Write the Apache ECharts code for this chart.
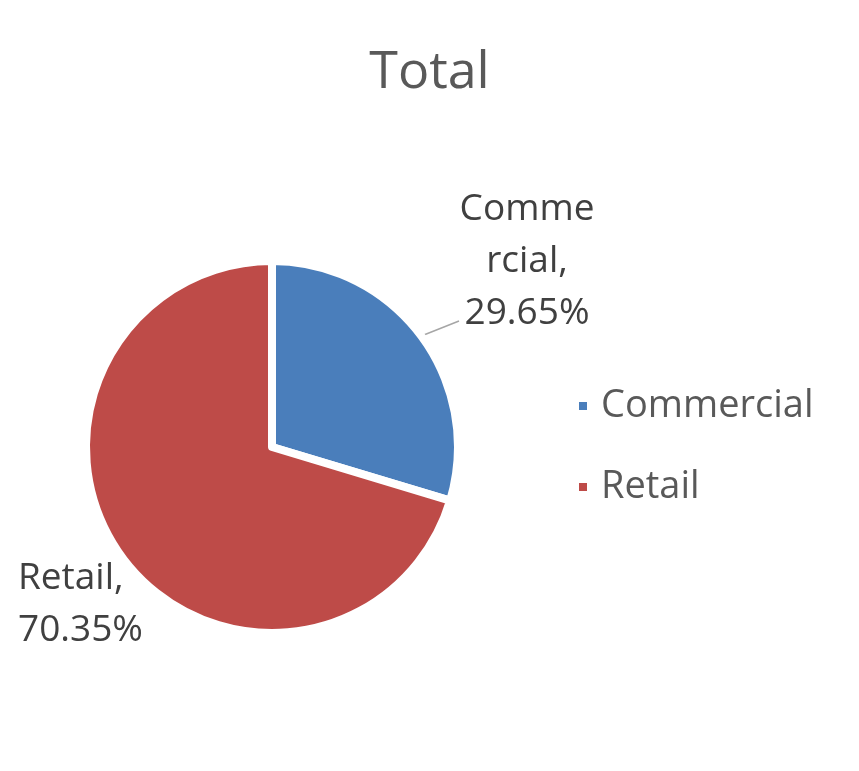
<!DOCTYPE html>
<html>
<head>
<meta charset="utf-8">
<script src="https://cdn.jsdelivr.net/npm/echarts@6/dist/echarts.min.js"></script>
<style>
  html, body { margin: 0; padding: 0; background: #fff; }
  #totalPie { width: 859px; height: 771px; }
</style>
</head>
<body>
<div id="totalPie"></div>
<script>
  // chart data
  let categories = ['Commercial', 'Retail'];
  let shares = [29.65, 70.35];
  let labelTexts = ['Comme\nrcial,\n29.65%', 'Retail,\n70.35%'];
  let colors = ['#4a7ebb', '#be4b48'];

  let myChart = echarts.init(document.getElementById('totalPie'));

  let pieData = categories.map(function (name, i) {
    return {
      name: name,
      value: shares[i],
      itemStyle: { color: colors[i] },
      label: { formatter: labelTexts[i] },
      labelLine: { show: i === 0 }
    };
  });

  // where Excel put the two data labels
  let labelSpots = [
    { x: 527, y: 261, align: 'center', lineEnd: [459, 321] },
    { x: 18, y: 604, align: 'left' }
  ];

  let option = {
    animation: false,
    title: {
      text: 'Total',
      left: 'center',
      top: 42,
      textStyle: {
        fontFamily: 'Open Sans',
        fontSize: 52,
        fontWeight: 'normal',
        color: '#595959'
      }
    },
    legend: {
      orient: 'vertical',
      left: 572,
      top: 381,
      icon: 'rect',
      itemWidth: 10,
      itemHeight: 10,
      itemGap: 41,
      data: categories,
      textStyle: {
        fontFamily: 'Open Sans',
        fontSize: 38,
        lineHeight: 40,
        color: '#595959',
        padding: [0, 0, 0, 8]
      }
    },
    series: [
      {
        name: 'Total',
        type: 'pie',
        center: [272, 447],
        radius: 186,
        startAngle: 90,
        clockwise: true,
        data: pieData,
        itemStyle: {
          borderColor: '#ffffff',
          borderWidth: 8
        },
        label: {
          show: true,
          position: 'outside',
          fontFamily: 'Open Sans',
          fontSize: 37,
          lineHeight: 52,
          color: '#404040',
          overflow: 'none'
        },
        labelLine: {
          show: true,
          length: 10,
          length2: 10,
          lineStyle: { color: '#a6a6a6', width: 1.5 }
        },
        labelLayout: function (params) {
          let spot = labelSpots[params.dataIndex];
          let out = {
            x: spot.x,
            y: spot.y,
            align: spot.align,
            verticalAlign: 'middle'
          };
          if (spot.lineEnd && params.labelLinePoints) {
            let p0 = params.labelLinePoints[0];
            out.labelLinePoints = [p0, [(p0[0] + spot.lineEnd[0]) / 2, (p0[1] + spot.lineEnd[1]) / 2], spot.lineEnd];
          }
          return out;
        },
        emphasis: { disabled: true }
      }
    ]
  };
  myChart.setOption(option, true);
</script>
</body>
</html>
